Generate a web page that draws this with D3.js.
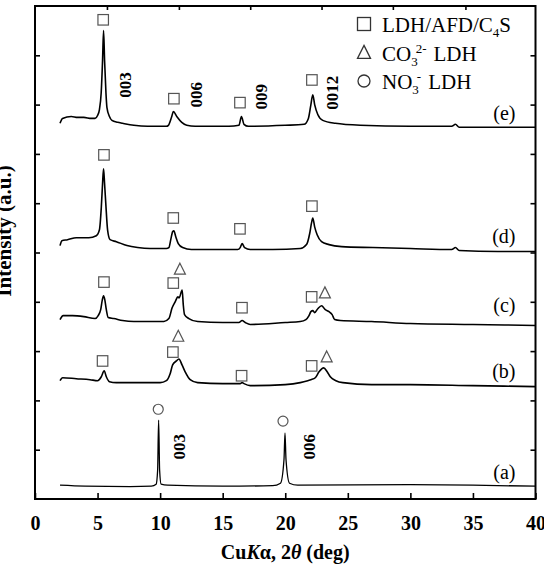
<!DOCTYPE html>
<html>
<head>
<meta charset="utf-8">
<script src="https://cdn.jsdelivr.net/npm/d3@7"></script>
<style>
body { margin: 0; background: #fff; }
text { font-family: "Liberation Serif", "Times New Roman", serif; }
</style>
</head>
<body>
<script>
// XRD patterns, [2theta (deg), intensity (a.u., stacked)]
var traceA = [[2.0,14],[4.0,13],[7.6,12.5],[9.3,13],[9.68,15],[9.8,29],[9.88,80],[9.96,29],[10.08,15],[10.6,14],[15.0,13],[19.0,13.5],[19.62,16],[19.9,40],[19.98,67],[20.06,40],[20.34,16],[21.0,14],[30.0,14.5],[35.0,14],[40.0,13]];

var traceB = [[2.0,120],[2.2,123],[3.3,122],[4.4,121],[5.0,120],[5.3,124],[5.53,130],[5.7,124],[5.95,119],[6.5,118],[8.0,118],[10.0,118],[10.5,120],[10.8,127],[11.0,136],[11.3,140],[11.5,142],[11.75,136],[12.0,129],[12.4,121],[13.0,118],[15.0,117],[16.4,117],[16.55,118],[16.7,117],[17.2,115],[20.0,116],[21.2,118],[21.8,120],[22.05,121],[22.4,123],[22.7,129],[23.07,133],[23.35,129],[23.6,124],[24.05,120],[24.6,118],[26.9,116],[30.0,116],[35.0,115],[40.0,114]];

var traceC = [[2.0,182],[2.25,186],[3.0,186],[3.9,185],[4.8,183],[5.05,186],[5.25,192],[5.38,202],[5.48,206],[5.58,202],[5.7,192],[5.85,184],[6.3,183],[7.0,181],[7.9,180],[10.3,180],[10.7,183],[10.96,194],[11.2,200],[11.42,205],[11.52,204],[11.76,212],[11.85,197],[11.95,187],[12.3,183],[13.0,180],[15.0,179],[16.3,179],[16.55,181],[16.8,179],[17.2,177],[20.0,179],[21.2,180],[21.65,182],[21.9,186],[22.05,190],[22.2,191],[22.35,189],[22.6,193],[22.9,196],[23.2,192],[23.5,190],[23.75,187],[23.95,182],[24.4,181],[26.9,180],[30.0,178],[35.0,177],[40.0,176]];

var traceD = [[2.0,257],[2.15,262],[2.6,263],[3.3,265],[3.6,265],[4.3,265],[4.9,267],[5.15,273],[5.3,296],[5.4,320],[5.48,335],[5.56,320],[5.67,297],[5.8,273],[6.0,263],[6.5,261],[7.35,257],[8.2,255],[9.2,254],[10.5,254],[10.7,255],[10.85,263],[11.0,271],[11.1,272],[11.25,266],[11.45,259],[11.8,255],[12.5,253],[16.2,253],[16.4,255],[16.55,259],[16.75,255],[17.2,253],[19.0,253],[21.2,254],[21.7,258],[21.95,269],[22.1,280],[22.2,285],[22.35,276],[22.55,268],[22.9,261],[23.5,258],[24.5,256],[27.0,255],[30.0,254],[33.3,253],[33.6,255],[33.9,252],[37.0,251],[40.0,251]];

var traceE = [[2.0,381],[2.2,386],[2.9,388],[3.4,387],[3.9,387],[4.5,386],[4.8,386],[5.0,389],[5.15,395],[5.29,412],[5.4,445],[5.48,475],[5.56,445],[5.67,412],[5.75,397],[5.95,388],[6.15,384],[6.6,382],[7.0,381],[7.9,379],[9.0,378],[10.5,378],[10.66,379],[10.93,388],[11.06,393],[11.33,388],[11.73,382],[12.13,379],[12.8,378],[15.5,378],[16.3,379],[16.5,388],[16.7,380],[17.05,378],[20.0,379],[21.5,380],[21.85,386],[22.05,400],[22.2,410],[22.35,400],[22.6,390],[23.0,384],[24.0,381],[26.0,379],[30.0,378],[33.3,378],[33.6,380],[33.9,377],[36.0,377],[40.0,377]];

var traces = [traceA, traceB, traceC, traceD, traceE];

// phase markers: [2theta, intensity, shape]
var markers = [
    [5.45,486,"sq"],[11.10,406,"sq"],[16.38,402,"sq"],[22.13,425,"sq"],
    [5.51,349,"sq"],[11.05,285,"sq"],[16.38,274,"sq"],[22.13,297,"sq"],
    [5.51,220,"sq"],[11.05,219,"sq"],[11.58,233,"tri"],[16.54,194,"sq"],[22.11,205,"sq"],[23.17,209,"tri"],
    [5.40,140,"sq"],[11.02,149,"sq"],[11.45,165,"tri"],[16.51,125,"sq"],[22.11,135,"sq"],[23.31,144,"tri"],
    [9.85,91,"ci"],[19.82,79,"ci"]
];

// reflection labels: [text, 2theta, intensity]
var hklLabels = [
    ["003",7.2,420],["006",12.9,410],["009",18.1,408],["0012",23.75,412],
    ["003",11.5,53],["006",21.9,53]
];

var panelLabels = [["(e)",384],["(d)",260],["(c)",190],["(b)",123],["(a)",20]];

var xTicks = [0,5,10,15,20,25,30,35,40];
var topTicks = [5.75,11.5,17.2,22.9,28.6,34.4];
var yTicks = [50,100,150,200,250,300,350,400,450];

var margin = { top: 6, right: 8.5, bottom: 69, left: 35 };
var width = 544 - margin.left - margin.right;
var height = 568 - margin.top - margin.bottom;

const svg = d3.select("body").append("svg")
    .attr("width", 544)
    .attr("height", 568);

const g = svg.append("g")
    .attr("transform", `translate(${margin.left},${margin.top})`);

const x = d3.scaleLinear().domain([0, 40]).range([0, width]);
const y = d3.scaleLinear().domain([0, 500]).range([height, 0]);

// axes, ticks pointing inward
const bottomAxis = g.append("g")
    .attr("transform", `translate(0,${height})`)
    .call(d3.axisBottom(x).tickValues(xTicks).tickSize(-6).tickFormat(d3.format("d")));
bottomAxis.selectAll("text")
    .attr("y", 31)
    .attr("dy", 0)
    .style("font-size", "20px")
    .style("font-weight", "bold")
    .style("font-family", "'Liberation Serif', 'Times New Roman', serif")
    .attr("fill", "#000");

g.append("g")
    .call(d3.axisTop(x).tickValues(topTicks).tickSize(-4).tickFormat(""));
g.append("g")
    .call(d3.axisLeft(y).tickValues(yTicks).tickSize(-5).tickFormat(""));
g.append("g")
    .attr("transform", `translate(${width},0)`)
    .call(d3.axisRight(y).tickValues(yTicks).tickSize(-5).tickFormat(""));

g.selectAll(".domain").remove();
g.selectAll(".tick line").attr("stroke", "#000").attr("stroke-width", 1.6);

g.append("rect")
    .attr("width", width)
    .attr("height", height)
    .attr("fill", "none")
    .attr("stroke", "#000")
    .attr("stroke-width", 2);

// patterns
const line = d3.line()
    .x(d => x(d[0]))
    .y(d => y(d[1]))
    .curve(d3.curveMonotoneX);

g.selectAll("path.trace")
    .data(traces)
    .enter().append("path")
    .attr("class", "trace")
    .attr("d", line)
    .attr("fill", "none")
    .attr("stroke", "#000")
    .attr("stroke-width", (d, i) => i === 0 ? 1.3 : 1.6)
    .attr("stroke-linejoin", "round");

// phase symbols
function drawSymbol(sel, shape, s) {
    if (shape === "sq") {
        sel.append("rect").attr("x", -s / 2).attr("y", -s / 2).attr("width", s).attr("height", s);
    } else if (shape === "tri") {
        sel.append("path").attr("d", `M0,${-s * 0.55}L${s / 2},${s * 0.45}L${-s / 2},${s * 0.45}Z`);
    } else {
        sel.append("circle").attr("r", s / 2);
    }
}

g.selectAll("g.marker")
    .data(markers)
    .enter().append("g")
    .attr("class", "marker")
    .attr("transform", d => `translate(${x(d[0])},${y(d[1])})`)
    .attr("fill", "none")
    .attr("stroke", "#555")
    .attr("stroke-width", 1.2)
    .each(function(d) {
        drawSymbol(d3.select(this), d[2], d[2] === "ci" ? 10 : (d[2] === "tri" ? 11 : 10.5));
    });

g.selectAll("text.hkl")
    .data(hklLabels)
    .enter().append("text")
    .attr("class", "hkl")
    .attr("transform", d => `translate(${x(d[1])},${y(d[2])}) rotate(-90)`)
    .attr("text-anchor", "middle")
    .attr("dy", "0.35em")
    .style("font-size", "17px")
    .style("font-weight", "bold")
    .text(d => d[0]);

g.selectAll("text.panel")
    .data(panelLabels)
    .enter().append("text")
    .attr("class", "panel")
    .attr("x", x(38.4))
    .attr("y", d => y(d[1]))
    .attr("text-anchor", "end")
    .style("font-size", "20px")
    .text(d => d[0]);

// legend
const legend = svg.append("g");
const legendRows = [
    { shape: "sq", parts: [["LDH/AFD/C", 0], ["4", 1], ["S", 0]] },
    { shape: "tri", parts: [["CO", 0], ["3", 1], ["2-", 2], ["LDH", 0]] },
    { shape: "ci", parts: [["NO", 0], ["3", 1], ["-", 2], ["LDH", 0]] }
];
legendRows.forEach((row, i) => {
    const cy = 24 + i * 28.5;
    const sym = legend.append("g")
        .attr("transform", `translate(364,${cy})`)
        .attr("fill", "none")
        .attr("stroke", "#333")
        .attr("stroke-width", 1.3);
    drawSymbol(sym, row.shape, row.shape === "ci" ? 12 : 13);

    const t = legend.append("text")
        .attr("x", 382)
        .attr("y", cy + 8)
        .style("font-size", "21px");
    let level = 0;
    row.parts.forEach((p, j) => {
        const ts = t.append("tspan").text(p[0]);
        if (p[1] === 1) {
            ts.style("font-size", "13px").attr("dy", 5 - level);
            level = 5;
        } else if (p[1] === 2) {
            ts.style("font-size", "13px").attr("dx", -2).attr("dy", -8 - level);
            level = -8;
        } else {
            ts.attr("dy", -level);
            if (j > 0 && row.parts[j - 1][1] === 2) ts.attr("dx", 7);
            level = 0;
        }
    });
});

// axis titles
const xTitle = svg.append("text")
    .attr("x", margin.left + width / 2)
    .attr("y", 559)
    .attr("text-anchor", "middle")
    .style("font-size", "20px")
    .style("font-weight", "bold");
xTitle.append("tspan").text("Cu");
xTitle.append("tspan").style("font-style", "italic").text("K");
xTitle.append("tspan").text("\u03b1, 2");
xTitle.append("tspan").style("font-style", "italic").text("\u03b8");
xTitle.append("tspan").text(" (deg)");

svg.append("text")
    .attr("transform", "translate(11,231) rotate(-90)")
    .attr("text-anchor", "middle")
    .style("font-size", "21px")
    .style("font-weight", "bold")
    .text("Intensity (a.u.)");
</script>
</body>
</html>
